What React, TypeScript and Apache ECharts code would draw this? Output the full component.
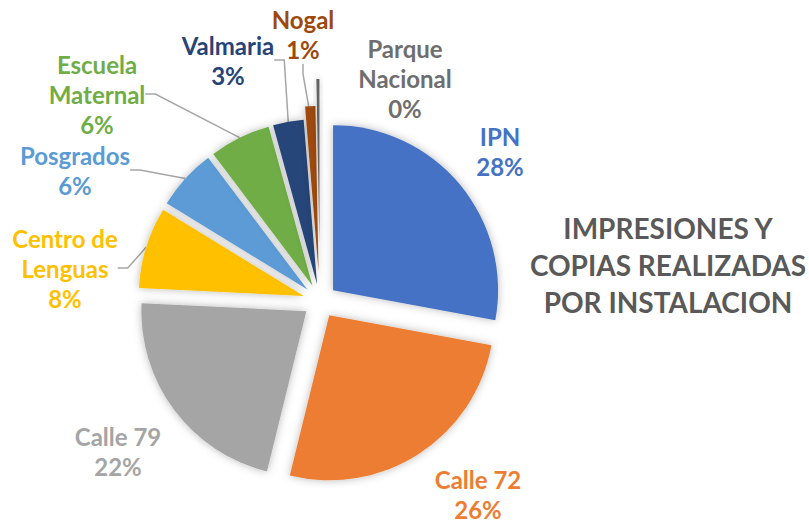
import React, { useEffect, useRef } from 'react';
import * as echarts from 'echarts';

const categories = ['IPN', 'Calle 72', 'Calle 79', 'Centro de Lenguas', 'Posgrados', 'Escuela Maternal', 'Valmaria', 'Nogal', 'Parque Nacional'];
const values = [28, 26, 22, 8, 6, 6, 3, 1, 0.3];
const wrapped = ['Centro de Lenguas', 'Escuela Maternal', 'Parque Nacional'];
const titleLines = ['IMPRESIONES Y', 'COPIAS REALIZADAS', 'POR INSTALACION'];

const sliceColors = ['#4472C4', '#ED7D31', '#A5A5A5', '#FFC000', '#5B9BD5', '#70AD47', '#264478', '#9E480E', '#636363'];
const labelColors = ['#4472C4', '#ED7D31', '#A5A5A5', '#FFC000', '#5B9BD5', '#70AD47', '#264478', '#9E480E', '#6E6E6E'];
const explode = [17, 17, 17, 17, 17, 17, 17, 30, 57];
const labelPos: [number, number][] = [
  [500, 151], [478, 494], [118, 451], [65, 268], [75, 170], [97, 94], [228, 60], [303, 34], [405, 78],
];
const hasLeader = [false, false, false, true, true, true, true, true, false];

const FONT = 'Lato';
const CENTER = [320, 301];
const R = 165;

export default function App() {
  const ref = useRef<HTMLDivElement>(null);
  useEffect(() => {
    if (!ref.current) return;
    const chart = echarts.init(ref.current, null, { renderer: 'svg' });
    const sliceSeries = categories.map((_, k) => ({
      type: 'pie',
      center: CENTER,
      radius: R,
      startAngle: 90,
      clockwise: true,
      selectedMode: 'multiple',
      selectedOffset: explode[k],
      silent: true,
      z: 3 + k,
      emphasis: { disabled: true },
      select: { itemStyle: { borderWidth: 0 } },
      label: { show: false },
      labelLine: { show: false },
      data: categories.map((name, i) => {
        const vis = i === k;
        return {
          name,
          value: values[i],
          selected: vis,
          itemStyle: vis
            ? { color: sliceColors[i], shadowBlur: 8, shadowColor: 'rgba(0,0,0,0.28)' }
            : { color: 'rgba(0,0,0,0)' },
        };
      }),
    }));
    const labelSeries = {
      type: 'pie',
      center: CENTER,
      radius: R + 17,
      startAngle: 90,
      clockwise: true,
      silent: true,
      z: 1,
      emphasis: { disabled: true },
      itemStyle: { color: 'rgba(0,0,0,0)' },
      label: {
        show: true,
        position: 'outside',
        overflow: 'none',
        edgeDistance: 0,
        fontFamily: FONT,
        fontWeight: 'bold',
        fontSize: 24,
        lineHeight: 30,
        align: 'center',
        formatter: (p: any) => {
          const n = wrapped.includes(p.name) ? p.name.replace(/ (\S+)$/, '\n$1') : p.name;
          return n + '\n' + Math.round(p.percent) + '%';
        },
      },
      labelLine: { show: false, lineStyle: { color: '#A6A6A6', width: 1.5 }, length: 10, length2: 10 },
      labelLayout: (params: any) => {
        const i = params.dataIndex;
        return { x: labelPos[i][0], y: labelPos[i][1], align: 'center', verticalAlign: 'middle' };
      },
      data: categories.map((name, i) => ({
        name,
        value: values[i],
        label: { color: labelColors[i] },
        labelLine: { show: hasLeader[i] },
      })),
    };
    chart.setOption({
      animation: false,
      backgroundColor: '#ffffff',
      series: [labelSeries, ...sliceSeries],
      graphic: [
        {
          type: 'text',
          x: 668,
          y: 265,
          style: {
            text: titleLines.join('\n'),
            fill: '#595959',
            font: `bold 28px ${FONT}`,
            lineHeight: 37,
            textAlign: 'center',
            textVerticalAlign: 'middle',
          },
        },
      ],
    } as any);
    return () => chart.dispose();
  }, []);
  return <div ref={ref} style={{ position: 'absolute', left: 0, top: 0, width: 809, height: 523 }} />;
}
